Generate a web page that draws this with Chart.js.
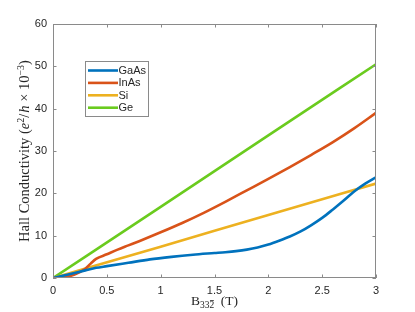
<!DOCTYPE html>
<html>
<head>
<meta charset="utf-8">
<script src="https://cdn.jsdelivr.net/npm/chart.js@4"></script>
<style>
  html, body { margin: 0; padding: 0; background: #fff; }
  #wrap { width: 415px; height: 312px; }
</style>
</head>
<body>
<div id="wrap"><canvas id="chart" width="415" height="312"></canvas></div>
<script>
// values
const seriesNames = ["GaAs", "InAs", "Si", "Ge"];
const seriesColors = ["#0072BD", "#D95319", "#EDB120", "#6ACB1E"];

const gaasB = [0, 0.1, 0.2, 0.3, 0.4, 0.5, 0.7, 0.9, 1.1, 1.3, 1.5, 1.6, 1.7, 1.8, 1.9, 2.0, 2.1, 2.2, 2.3, 2.4, 2.5, 2.6, 2.7, 2.8, 2.9, 3.0];
const gaasY = [0, 0.6, 1.2, 1.8, 2.4, 2.8, 3.6, 4.4, 5.0, 5.5, 5.9, 6.1, 6.35, 6.7, 7.2, 7.9, 8.8, 9.8, 11.0, 12.5, 14.2, 16.2, 18.3, 20.5, 22.3, 23.8];

const inasB = [0, 0.1, 0.2, 0.3, 0.35, 0.4, 0.5, 0.6, 0.7, 0.8, 1.0, 1.2, 1.4, 1.6, 1.8, 2.0, 2.2, 2.4, 2.6, 2.8, 3.0];
const inasY = [0, 0.2, 0.8, 2.2, 3.4, 4.5, 5.6, 6.7, 7.7, 8.7, 10.8, 13.0, 15.4, 18.0, 20.7, 23.4, 26.2, 29.1, 32.1, 35.4, 39.0];

const siB = [0, 1, 2, 3];
const siY = [0, 7.4, 14.9, 22.3];

const geB = [0, 1, 2, 3];
const geY = [0, 16.8, 33.7, 50.5];

const xTicks = [0, 0.5, 1, 1.5, 2, 2.5, 3];
const yTicks = [0, 10, 20, 30, 40, 50, 60];

function toPoints(xs, ys) {
    return xs.map((x, i) => ({ x: x, y: ys[i] }));
}

const allB = [gaasB, inasB, siB, geB];
const allY = [gaasY, inasY, siY, geY];

const datasets = seriesNames.map((name, i) => ({
    label: name,
    data: toPoints(allB[i], allY[i]),
    borderColor: seriesColors[i],
    backgroundColor: seriesColors[i],
    borderWidth: 2.6,
    pointRadius: 0,
    showLine: true,
    fill: false,
    cubicInterpolationMode: "monotone"
}));

const axisColor = "#262626";
const boxColor = "#8a8a8a";

// box, inside ticks, legend and the two axis titles, matlab style
const decorations = {
    id: "decorations",
    afterDraw(chart) {
        const ctx = chart.ctx;
        const a = chart.chartArea;
        const xs = chart.scales.x;
        const ys = chart.scales.y;

        ctx.save();
        ctx.strokeStyle = boxColor;
        ctx.lineWidth = 1;
        ctx.strokeRect(a.left + 0.5, a.top + 0.5, a.right - a.left - 1, a.bottom - a.top - 1);

        const tl = 3.5;
        ctx.beginPath();
        xTicks.forEach(v => {
            const px = Math.round(xs.getPixelForValue(v)) + 0.5;
            ctx.moveTo(px, a.bottom); ctx.lineTo(px, a.bottom - tl);
            ctx.moveTo(px, a.top); ctx.lineTo(px, a.top + tl);
        });
        yTicks.forEach(v => {
            const py = Math.round(ys.getPixelForValue(v)) + 0.5;
            ctx.moveTo(a.left, py); ctx.lineTo(a.left + tl, py);
            ctx.moveTo(a.right, py); ctx.lineTo(a.right - tl, py);
        });
        ctx.stroke();

        // legend
        const lx = 85, ly = 61, lw = 63, lh = 55;
        ctx.fillStyle = "#fff";
        ctx.fillRect(lx, ly, lw, lh);
        ctx.strokeStyle = "#8a8a8a";
        ctx.strokeRect(lx + 0.5, ly + 0.5, lw, lh);
        ctx.font = "11px 'Liberation Sans', Arial, sans-serif";
        ctx.textBaseline = "middle";
        ctx.textAlign = "left";
        chart.data.datasets.forEach((ds, i) => {
            const y = 70.5 + i * 12.4;
            ctx.strokeStyle = ds.borderColor;
            ctx.lineWidth = 2.6;
            ctx.beginPath();
            ctx.moveTo(88, y); ctx.lineTo(118, y);
            ctx.stroke();
            ctx.fillStyle = axisColor;
            ctx.fillText(ds.label, 118.5, y + 0.5);
        });

        // x title: B_{33\bar2} (T)
        ctx.fillStyle = axisColor;
        ctx.textBaseline = "alphabetic";
        const big = "13.5px 'Liberation Serif', 'DejaVu Serif', serif";
        const small = "9.5px 'Liberation Serif', 'DejaVu Serif', serif";
        ctx.font = big;
        const wB = ctx.measureText("B").width;
        const wT = ctx.measureText(" (T)").width;
        ctx.font = small;
        const wS = ctx.measureText("332").width;
        const w2 = ctx.measureText("2").width;
        const total = wB + wS + 3 + wT;
        let x0 = (a.left + a.right) / 2 - total / 2;
        const base = 305;
        ctx.font = big;
        ctx.fillText("B", x0, base);
        ctx.font = small;
        ctx.fillText("332", x0 + wB, base + 3);
        ctx.lineWidth = 0.8;
        ctx.strokeStyle = axisColor;
        ctx.beginPath();
        ctx.moveTo(x0 + wB + wS - w2 + 0.5, base - 4.5);
        ctx.lineTo(x0 + wB + wS - 0.5, base - 4.5);
        ctx.stroke();
        ctx.font = big;
        ctx.fillText(" (T)", x0 + wB + wS + 3, base);

        // y title: Hall Conductivity (e^2/h x 10^-3)
        const ybig = "14.5px 'Liberation Serif', 'DejaVu Serif', serif";
        const ysmall = "10px 'Liberation Serif', 'DejaVu Serif', serif";
        const parts = [
            { t: "Hall Conductivity (", f: ybig, dy: 0 },
            { t: "e", f: "italic " + ybig, dy: 0 },
            { t: "2", f: ysmall, dy: -5.5 },
            { t: "/", f: ybig, dy: 0 },
            { t: "h", f: "italic " + ybig, dy: 0 },
            { t: " \u00d7 10", f: ybig, dy: 0 },
            { t: "\u22123", f: ysmall, dy: -5.5 },
            { t: ")", f: ybig, dy: 0 }
        ];
        let tw = 0;
        parts.forEach(p => { ctx.font = p.f; p.w = ctx.measureText(p.t).width; tw += p.w + (p.t === "/" ? 1 : 0); });
        ctx.translate(29, (a.top + a.bottom) / 2);
        ctx.rotate(-Math.PI / 2);
        let cx = -tw / 2;
        parts.forEach(p => {
            ctx.font = p.f;
            ctx.fillText(p.t, cx, p.dy);
            cx += p.w + (p.t === "/" ? 1 : 0);
        });
        ctx.restore();
    }
};

new Chart(document.getElementById("chart"), {
    type: "scatter",
    data: { datasets: datasets },
    plugins: [decorations],
    options: {
        responsive: false,
        animation: false,
        layout: { padding: { left: 0, right: 39, top: 24, bottom: 0 } },
        plugins: {
            legend: { display: false },
            tooltip: { enabled: false }
        },
        scales: {
            x: {
                type: "linear",
                min: 0, max: 3,
                afterFit: s => { s.height = 34; },
                afterBuildTicks: s => { s.ticks = xTicks.map(v => ({ value: v })); },
                grid: { display: false, drawTicks: false },
                border: { display: false },
                ticks: {
                    padding: 6,
                    color: axisColor,
                    font: { family: "'Liberation Sans', Arial, sans-serif", size: 11 },
                    callback: v => String(v)
                }
            },
            y: {
                type: "linear",
                min: 0, max: 60,
                afterFit: s => { s.width = 53; },
                afterBuildTicks: s => { s.ticks = yTicks.map(v => ({ value: v })); },
                grid: { display: false, drawTicks: false },
                border: { display: false },
                ticks: {
                    padding: 6,
                    color: axisColor,
                    font: { family: "'Liberation Sans', Arial, sans-serif", size: 11 },
                    callback: v => String(v)
                }
            }
        }
    }
});
</script>
</body>
</html>
